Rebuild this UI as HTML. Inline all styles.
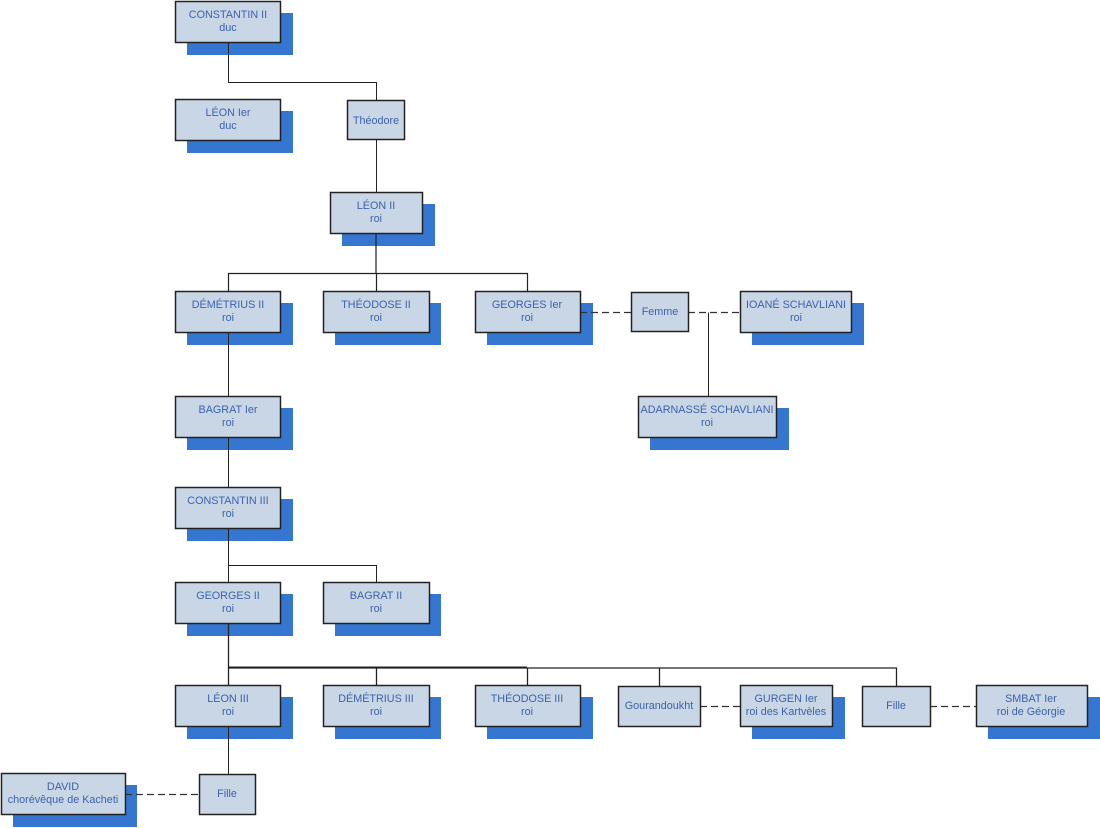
<!DOCTYPE html>
<html><head><meta charset="utf-8"><style>
html,body{margin:0;padding:0;background:#fff;width:1100px;height:828px;overflow:hidden}
svg text{font-family:"Liberation Sans",Arial,sans-serif;font-size:10.8px;fill:#3b62ac;text-anchor:middle}
.s{fill:#3476d0}
.b{fill:#c9d6e5;stroke:#222;stroke-width:1.5}
.l{stroke:#222;stroke-width:1;fill:none}
.d{stroke:#333;stroke-width:1.2;stroke-dasharray:7,4;fill:none}
</style></head><body>
<svg width="1100" height="828" xmlns="http://www.w3.org/2000/svg">
<!-- shadows -->
<g class="s">
<rect x="187" y="13" width="106" height="42"/>
<rect x="187" y="111" width="106" height="42"/>
<rect x="342" y="204" width="93" height="42"/>
<rect x="187" y="303" width="106" height="42"/>
<rect x="335" y="303" width="106" height="42"/>
<rect x="487" y="303" width="106" height="42"/>
<rect x="752" y="303" width="112" height="42"/>
<rect x="650" y="408" width="139" height="42"/>
<rect x="187" y="408" width="106" height="42"/>
<rect x="187" y="499" width="106" height="42"/>
<rect x="187" y="594" width="106" height="42"/>
<rect x="335" y="594" width="106" height="42"/>
<rect x="187" y="697" width="106" height="42"/>
<rect x="335" y="697" width="106" height="42"/>
<rect x="487" y="697" width="106" height="42"/>
<rect x="752" y="697" width="93" height="42"/>
<rect x="988" y="697" width="112" height="42"/>
<rect x="13" y="785" width="124" height="42"/>
</g>
<!-- connectors -->
<path class="l" d="M228.5 42V82.5H376.5V100"/>
<path class="l" d="M376.5 140V192"/>
<path class="l" d="M376 233V273.5 M228.5 291V273.5H527.5V291 M376.5 273V291" style="stroke-width:1.2"/>
<path class="l" d="M228.5 333V396 M228.5 438V487"/>
<path class="l" d="M228.5 528V565.5H376.5V582 M228.5 565V582"/>
<path class="l" d="M228.5 624V668 M228.5 668H896.5V686 M376.5 668V685 M527.5 668V685 M659.5 668V686 M228.5 668V685" style="stroke-width:1.3"/>
<path class="l" d="M229 667.5H527" style="stroke-width:2"/>
<path class="l" d="M228.5 726V774"/>
<path class="l" d="M708.5 312.5V396"/>
<path class="d" d="M580 312.5H631 M688 312.5H740"/>
<path class="d" d="M700 706.5H740 M930 706.5H976"/>
<path class="d" d="M125 794.5H199"/>

<!-- boxes -->
<g>
<rect class="b" x="175.5" y="1.5" width="105" height="41"/>
<rect class="b" x="175.5" y="99.5" width="105" height="41"/>
<rect class="b" x="347.5" y="100.5" width="57" height="39"/>
<rect class="b" x="330.5" y="192.5" width="92" height="41"/>
<rect class="b" x="175.5" y="291.5" width="105" height="41"/>
<rect class="b" x="323.5" y="291.5" width="106" height="41"/>
<rect class="b" x="475.5" y="291.5" width="105" height="41"/>
<rect class="b" x="631.5" y="292.5" width="57" height="39"/>
<rect class="b" x="740.5" y="291.5" width="111" height="41"/>
<rect class="b" x="638.5" y="396.5" width="138" height="41"/>
<rect class="b" x="175.5" y="396.5" width="105" height="41"/>
<rect class="b" x="175.5" y="487.5" width="105" height="41"/>
<rect class="b" x="175.5" y="582.5" width="105" height="41"/>
<rect class="b" x="323.5" y="582.5" width="106" height="41"/>
<rect class="b" x="175.5" y="685.5" width="105" height="41"/>
<rect class="b" x="323.5" y="685.5" width="106" height="41"/>
<rect class="b" x="475.5" y="685.5" width="105" height="41"/>
<rect class="b" x="618.5" y="686.5" width="82" height="40"/>
<rect class="b" x="740.5" y="685.5" width="92" height="41"/>
<rect class="b" x="862.5" y="686.5" width="68" height="40"/>
<rect class="b" x="976.5" y="685.5" width="111" height="41"/>
<rect class="b" x="199.5" y="774.5" width="56" height="40"/>
<rect class="b" x="1.5" y="773.5" width="124" height="41"/>
</g>

<!-- labels -->
<text x="228" y="18">CONSTANTIN II</text><text x="228" y="31">duc</text>
<text x="228" y="116">LÉON Ier</text><text x="228" y="129">duc</text>
<text x="376" y="124">Théodore</text>
<text x="376" y="209">LÉON II</text><text x="376" y="222">roi</text>
<text x="228" y="308">DÉMÉTRIUS II</text><text x="228" y="321">roi</text>
<text x="376" y="308">THÉODOSE II</text><text x="376" y="321">roi</text>
<text x="527" y="308">GEORGES Ier</text><text x="527" y="321">roi</text>
<text x="660" y="315">Femme</text>
<text x="796" y="308">IOANÉ SCHAVLIANI</text><text x="796" y="321">roi</text>
<text x="707" y="413">ADARNASSÉ SCHAVLIANI</text><text x="707" y="426">roi</text>
<text x="228" y="413">BAGRAT Ier</text><text x="228" y="426">roi</text>
<text x="228" y="504">CONSTANTIN III</text><text x="228" y="517">roi</text>
<text x="228" y="599">GEORGES II</text><text x="228" y="612">roi</text>
<text x="376" y="599">BAGRAT II</text><text x="376" y="612">roi</text>
<text x="228" y="702">LÉON III</text><text x="228" y="715">roi</text>
<text x="376" y="702">DÉMÉTRIUS III</text><text x="376" y="715">roi</text>
<text x="527" y="702">THÉODOSE III</text><text x="527" y="715">roi</text>
<text x="659" y="709">Gourandoukht</text>
<text x="786" y="702">GURGEN Ier</text><text x="786" y="715">roi des Kartvèles</text>
<text x="896" y="709">Fille</text>
<text x="1031" y="702">SMBAT Ier</text><text x="1031" y="715">roi de Géorgie</text>
<text x="227" y="797">Fille</text>
<text x="63" y="790">DAVID</text><text x="63" y="803">chorévêque de Kacheti</text>
</svg>
</body></html>
